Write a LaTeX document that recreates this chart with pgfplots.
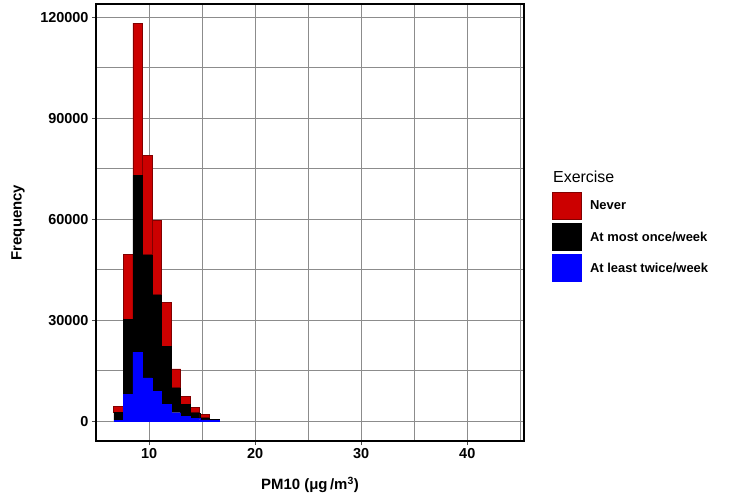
\documentclass[border=0pt]{standalone}
\usepackage{fontspec}
\setmainfont{Liberation Sans}
\usepackage{pgfplots}
\pgfplotsset{compat=1.18}
\definecolor{nevRed}{RGB}{204,0,0}
\definecolor{nevEdge}{RGB}{130,0,0}
\definecolor{twiceBlue}{RGB}{0,0,255}

\begin{document}
\begin{tikzpicture}
\begin{axis}[
    name=ax,
    width=428bp, height=437bp, scale only axis,
    xmin=5, xmax=45.35, ymin=-5900, ymax=123900,
    ybar stacked, bar width=0.9, bar shift=0pt,
    axis line style={black, line width=1.3bp},
    grid=both,
    grid style={black!45, line width=0.9bp},
    minor grid style={black!45, line width=0.9bp},
    xtick={10,20,30,40}, minor xtick={15,25,35,45},
    ytick={0,30000,60000,90000,120000}, minor ytick={15000,45000,75000,105000},
    xtick pos=left, ytick pos=left,
    tick align=outside, major tick length=4bp, minor tick length=0pt,
    tick style={black!70, line width=0.9bp},
    scaled y ticks=false,
    /pgf/number format/assume math mode=true,
    yticklabel style={/pgf/number format/fixed, /pgf/number format/1000 sep={}},
    tick label style={font=\fontsize{14.5}{16}\selectfont\bfseries, text=black},
    xlabel={PM10 (μg\,/m\textsuperscript{3})},
    ylabel={Frequency},
    every axis x label/.style={at={(axis description cs:0.5,-0.1007)}, anchor=center,
        font=\fontsize{15}{17}\selectfont\bfseries},
    every axis y label/.style={at={(axis description cs:-0.1822,0.5)}, anchor=center, rotate=90,
        font=\fontsize{15}{17}\selectfont\bfseries},
    legend image code/.code={\draw[#1, line width=1bp] (0bp,-13.5bp) rectangle (29bp,13.5bp);},
    reverse legend=true,
    legend cell align=left,
    legend style={at={(rel axis cs:1.064,0.570)}, anchor=north west, draw=none, fill=none,
        inner sep=0pt, row sep=3bp,
        nodes={inner sep=1.5bp},
        font=\fontsize{13}{15}\selectfont\bfseries,
        /tikz/every odd column/.append style={column sep=7bp}},
]
% At least twice/week (bottom layer)
\addplot[fill=twiceBlue, draw=twiceBlue, line width=0.4bp] coordinates {
    (7.13,300) (8.03,7900) (8.93,20500) (9.83,12850) (10.73,8900) (11.63,4950)
    (12.53,2500) (13.43,1500) (14.33,800) (15.23,400) (16.13,150)
};
% At most once/week
\addplot[fill=black, draw=black, line width=0.4bp] coordinates {
    (7.13,2400) (8.03,22250) (8.93,52500) (9.83,36550) (10.73,28600) (11.63,17250)
    (12.53,7400) (13.43,3450) (14.33,1700) (15.23,600) (16.13,350)
};
% Never (top layer)
\addplot[fill=nevRed, draw=nevEdge, line width=0.8bp] coordinates {
    (7.13,1700) (8.03,19250) (8.93,45200) (9.83,29400) (10.73,22200) (11.63,13050)
    (12.53,5600) (13.43,2450) (14.33,1450) (15.23,1000) (16.13,100)
};
\legend{At least twice/week, At most once/week, Never}
\end{axis}
\node[anchor=west, inner sep=0pt, font=\fontsize{16}{18}\selectfont]
    at ([shift={(29bp,-173bp)}]ax.north east) {Exercise};
\pgfresetboundingbox
\path ([shift={(-96bp,-60bp)}]ax.south west) rectangle ([shift={(207bp,4bp)}]ax.north east);
\end{tikzpicture}
\end{document}
